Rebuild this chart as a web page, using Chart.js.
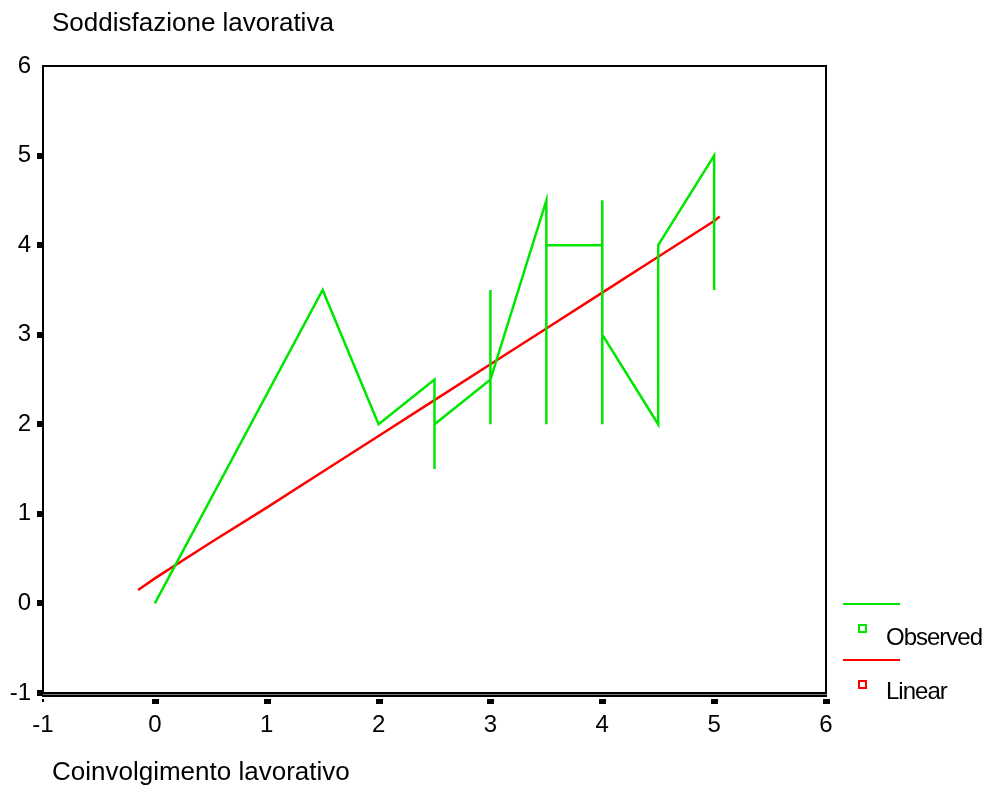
<!DOCTYPE html>
<html>
<head>
<meta charset="utf-8">
<script src="https://cdn.jsdelivr.net/npm/chart.js@4.4.0/dist/chart.umd.min.js"></script>
<style>
  html, body { margin: 0; padding: 0; background: #fff; }
  #wrap { width: 991px; height: 787px; position: relative; }
</style>
</head>
<body>
<div id="wrap"><canvas id="fitChart"></canvas></div>
<script>
// observed values, in the order the line is drawn
var observedX = [0, 1.5, 2, 2.5, 2.5, 2.5, 3, 3, 3, 3, 3.5, 3.5, 3.5, 4, 4, 4, 4, 4.5, 4.5, 5, 5];
var observedY = [0, 3.5, 2, 2.5, 1.5, 2, 2.5, 3.5, 2, 2.5, 4.5, 2, 4, 4, 4.5, 2, 3, 2, 4, 5, 3.5];

// linear fit
var linearX = [-0.15, 0, 0.5, 1, 1.5, 2, 2.5, 3, 3.5, 4, 4.5, 5, 5.05];
var linearY = [0.15, 0.28, 0.68, 1.07, 1.47, 1.87, 2.27, 2.67, 3.07, 3.47, 3.87, 4.27, 4.32];

var tickValues = [-1, 0, 1, 2, 3, 4, 5, 6];

var green = '#00e600';
var red = '#ff0000';
var font = '"Liberation Sans", Arial, sans-serif';

function toPoints(xs, ys) {
    return xs.map(function (x, i) { return { x: x, y: ys[i] }; });
}

// frame, tick marks, titles and legend
var decor = {
    id: 'decor',
    afterDraw: function (chart) {
        var ctx = chart.ctx;
        var a = chart.chartArea;
        var xs = chart.scales.x, ys = chart.scales.y;
        ctx.save();
        ctx.fillStyle = '#000';
        ctx.strokeStyle = '#000';

        // box
        ctx.lineWidth = 2;
        ctx.beginPath();
        ctx.moveTo(a.left, a.bottom);
        ctx.lineTo(a.left, a.top);
        ctx.lineTo(a.right, a.top);
        ctx.lineTo(a.right, a.bottom);
        ctx.stroke();
        // double bottom line
        ctx.fillRect(a.left - 1, a.bottom - 1, a.right - a.left + 2, 2);
        ctx.fillRect(a.left - 1, a.bottom + 2, a.right - a.left + 2, 2);
        ctx.fillStyle = '#777';
        ctx.fillRect(a.left - 1, a.bottom + 1, a.right - a.left + 2, 1);
        ctx.fillStyle = '#000';

        // tick marks
        tickValues.forEach(function (v) {
            var py = ys.getPixelForValue(v);
            if (v < 6) ctx.fillRect(a.left - 6, Math.round(py) - 3, 6, 6);
            var px = xs.getPixelForValue(v);
            if (v > -1) ctx.fillRect(Math.round(px) - 3, a.bottom + 6, 7, 5);
            else ctx.fillRect(Math.round(px) - 1, a.bottom + 6, 2, 3);
        });

        // titles
        ctx.font = '26px ' + font;
        ctx.textAlign = 'left';
        ctx.textBaseline = 'alphabetic';
        ctx.fillText('Soddisfazione lavorativa', 52, 31);
        ctx.fillText('Coinvolgimento lavorativo', 52, 780);

        // legend
        ctx.lineWidth = 2;
        ctx.strokeStyle = green;
        ctx.beginPath(); ctx.moveTo(843, 604); ctx.lineTo(900, 604); ctx.stroke();
        ctx.strokeRect(859, 625, 7, 7);
        ctx.strokeStyle = red;
        ctx.beginPath(); ctx.moveTo(843, 660); ctx.lineTo(900, 660); ctx.stroke();
        ctx.strokeRect(859, 681, 7, 7);
        ctx.fillStyle = '#000';
        ctx.font = '24px ' + font;
        ctx.letterSpacing = '-1px';
        ctx.fillText('Observed', 886, 645);
        ctx.fillText('Linear', 886, 699);
        ctx.restore();
    }
};

new Chart('fitChart', {
    type: 'scatter',
    data: {
        datasets: [{
            label: 'Observed',
            data: toPoints(observedX, observedY),
            showLine: true,
            borderColor: green,
            borderWidth: 2.5,
            pointRadius: 0,
            tension: 0
        }, {
            label: 'Linear',
            data: toPoints(linearX, linearY),
            showLine: true,
            borderColor: red,
            borderWidth: 2.5,
            pointRadius: 0,
            tension: 0
        }]
    },
    options: {
        responsive: true,
        maintainAspectRatio: false,
        animation: false,
        layout: { padding: { top: 66, right: 165, left: 0, bottom: 0 } },
        plugins: { legend: { display: false }, tooltip: { enabled: false } },
        scales: {
            x: {
                type: 'linear',
                min: -1, max: 6,
                afterFit: function (s) { s.height = 94; },
                border: { display: false },
                grid: { drawOnChartArea: false, tickLength: 10, tickColor: 'rgba(0,0,0,0)' },
                ticks: { stepSize: 1, padding: 8, color: '#000', font: { family: font, size: 24 } }
            },
            y: {
                type: 'linear',
                min: -1, max: 6,
                afterFit: function (s) { s.width = 43; },
                border: { display: false },
                grid: { drawOnChartArea: false, tickLength: 6, tickColor: 'rgba(0,0,0,0)' },
                ticks: { stepSize: 1, padding: 6, color: '#000', font: { family: font, size: 24 } }
            }
        }
    },
    plugins: [decor]
});
</script>
</body>
</html>
